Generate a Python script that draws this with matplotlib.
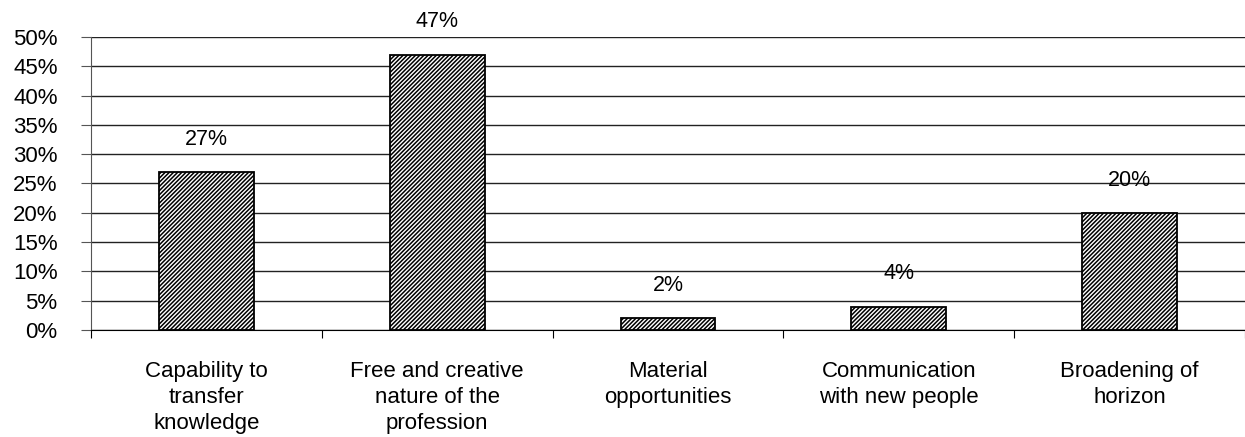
import matplotlib
matplotlib.use("Agg")
import matplotlib.pyplot as plt
import numpy as np

categories = [
    "Capability to\ntransfer\nknowledge",
    "Free and creative\nnature of the\nprofession",
    "Material\nopportunities",
    "Communication\nwith new people",
    "Broadening of\nhorizon",
]
values = [27, 47, 2, 4, 20]

plt.rcParams["font.family"] = ["Liberation Sans", "DejaVu Sans"]
plt.rcParams["hatch.linewidth"] = 1.1

fig = plt.figure(figsize=(12.45, 4.37), dpi=100)
ax = fig.add_axes([0.0731, 0.2449, 0.9269, 0.6704])

x = np.arange(len(values))
ax.bar(x, values, width=0.41, color="white", edgecolor="black",
       hatch="////////", linewidth=1.3, zorder=3)

for xi, v in zip(x, values):
    ax.annotate(f"{v}%", (xi, v), xytext=(0, 16), textcoords="offset points",
                ha="center", va="bottom", fontsize=15.5)

ax.set_xlim(-0.5, len(values) - 0.5)
ax.set_ylim(0, 50)
ax.set_yticks(np.arange(0, 51, 5))
ax.set_yticklabels([f"{t}%" for t in range(0, 51, 5)], fontsize=16)
ax.yaxis.grid(True, color="#222222", linewidth=1.0, zorder=0)
ax.tick_params(axis="y", length=7, width=0.8, color="#555555", pad=17)

ax.set_xticks(x)
ax.set_xticklabels(categories, fontsize=16, linespacing=1.33)
ax.set_xticks(np.arange(-0.5, len(values)), minor=True)
ax.tick_params(axis="x", which="major", length=0, pad=22)
ax.tick_params(axis="x", which="minor", length=6, width=0.8, color="black")

for side in ["top", "right"]:
    ax.spines[side].set_visible(False)
ax.spines["left"].set_color("#555555")
ax.spines["bottom"].set_color("black")
ax.set_axisbelow(True)

fig.savefig("out.png", dpi=100)
